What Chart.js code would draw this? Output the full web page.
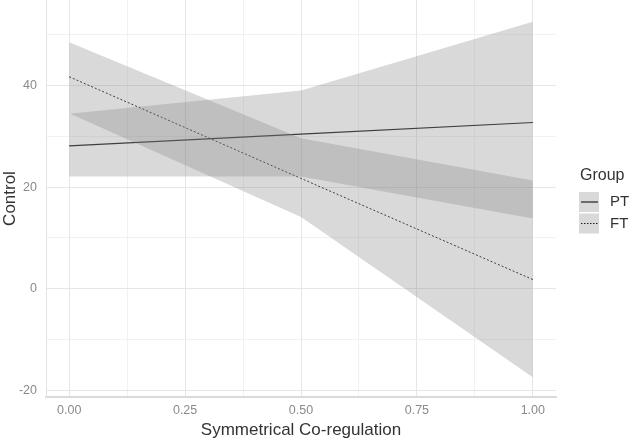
<!DOCTYPE html>
<html>
<head>
<meta charset="utf-8">
<script src="https://cdn.jsdelivr.net/npm/chart.js@4"></script>
<style>
  html, body { margin: 0; padding: 0; background: #fff; }
  #wrap { width: 633px; height: 442px; }
</style>
</head>
<body>
<div id="wrap"><canvas id="chart" width="633" height="442"></canvas></div>
<script>
// x positions of the fitted values
const xValues = [0, 0.5, 1];

// PT group: fitted line and confidence band
const ptFit = [28.1, 30.4, 32.7];
const ptLower = [22.1, 22.1, 13.8];
const ptUpper = [34.4, 39.0, 52.5];

// FT group: fitted line and confidence band
const ftFit = [41.7, 21.7, 1.8];
const ftLower = [34.5, 14.1, -17.4];
const ftUpper = [48.5, 29.6, 21.3];

// axis ticks (major get labels, minor only grid lines)
const xTicks = [0, 0.125, 0.25, 0.375, 0.5, 0.625, 0.75, 0.875, 1];
const xLabels = [0, 0.25, 0.5, 0.75, 1];
const yTicks = [-20, -10, 0, 10, 20, 30, 40, 50];
const yLabels = [-20, 0, 20, 40];

const groups = ['PT', 'FT'];

const toPoints = arr => arr.map((v, i) => ({ x: xValues[i], y: v }));
const bandFill = 'rgba(128,128,128,0.3)';
const fontFamily = '"Liberation Sans", Arial, sans-serif';

const overlay = {
  id: 'overlay',
  afterDraw(chart) {
    const ctx = chart.ctx;
    const area = chart.chartArea;
    ctx.save();
    ctx.fillStyle = '#333';
    ctx.font = '17px ' + fontFamily;
    ctx.textAlign = 'center';
    ctx.textBaseline = 'middle';
    ctx.fillText('Symmetrical Co-regulation', (area.left + area.right) / 2, 430);
    ctx.translate(10, (area.top + area.bottom) / 2);
    ctx.rotate(-Math.PI / 2);
    ctx.fillText('Control', 0, 0);
    ctx.restore();

    // legend
    ctx.save();
    ctx.fillStyle = '#333';
    ctx.font = '16px ' + fontFamily;
    ctx.textAlign = 'left';
    ctx.textBaseline = 'middle';
    ctx.fillText('Group', 580, 176);
    groups.forEach((g, i) => {
      const top = 192 + i * 21.5;
      ctx.fillStyle = '#d9d9d9';
      ctx.fillRect(579, top, 20, 20);
      ctx.strokeStyle = '#222';
      ctx.lineWidth = i === 0 ? 1.2 : 1;
      ctx.setLineDash(i === 0 ? [] : [1.5, 1.5]);
      ctx.beginPath();
      ctx.moveTo(581, top + 10);
      ctx.lineTo(598, top + 10);
      ctx.stroke();
      ctx.setLineDash([]);
      ctx.fillStyle = '#333';
      ctx.font = '15px ' + fontFamily;
      ctx.fillText(g, 610, top + 10);
    });
    ctx.restore();
  }
};

new Chart(document.getElementById('chart'), {
  type: 'line',
  data: {
    datasets: [
      { data: toPoints(ptLower), borderWidth: 0, pointRadius: 0, fill: false },
      { data: toPoints(ptUpper), borderWidth: 0, pointRadius: 0, fill: '-1', backgroundColor: bandFill },
      { data: toPoints(ftLower), borderWidth: 0, pointRadius: 0, fill: false },
      { data: toPoints(ftUpper), borderWidth: 0, pointRadius: 0, fill: '-1', backgroundColor: bandFill },
      { data: toPoints(ptFit), borderColor: '#222', borderWidth: 1.2, pointRadius: 0, fill: false },
      { data: toPoints(ftFit), borderColor: '#222', borderWidth: 1, borderDash: [2, 2], pointRadius: 0, fill: false }
    ]
  },
  options: {
    responsive: false,
    animation: false,
    layout: { padding: { left: 0, top: 0, right: 77, bottom: 0 } },
    plugins: { legend: { display: false }, tooltip: { enabled: false } },
    scales: {
      x: {
        type: 'linear',
        min: -0.05,
        max: 1.05,
        afterBuildTicks: s => { s.ticks = xTicks.map(v => ({ value: v })); },
        afterFit: s => { s.height = 45; s.paddingLeft = 0; s.paddingRight = 0; },
        ticks: {
          padding: 6,
          color: '#8a8a8a',
          font: { family: fontFamily, size: 12.5 },
          autoSkip: false,
          maxRotation: 0,
          callback: v => xLabels.includes(v) ? v.toFixed(2) : ''
        },
        grid: {
          drawTicks: false,
          color: ctx => xLabels.includes(ctx.tick && ctx.tick.value) ? '#e6e6e6' : '#eeeeee',
          lineWidth: ctx => xLabels.includes(ctx.tick && ctx.tick.value) ? 1 : 0.8
        },
        border: { display: true, color: '#dadada', width: 2 }
      },
      y: {
        min: -21.3,
        max: 56.8,
        afterBuildTicks: s => { s.ticks = yTicks.map(v => ({ value: v })); },
        afterFit: s => { s.width = 46; s.paddingTop = 0; s.paddingBottom = 0; },
        ticks: {
          padding: 9,
          color: '#8a8a8a',
          font: { family: fontFamily, size: 12.5 },
          autoSkip: false,
          callback: v => yLabels.includes(v) ? String(v) : ''
        },
        grid: {
          drawTicks: false,
          color: ctx => yLabels.includes(ctx.tick && ctx.tick.value) ? '#e6e6e6' : '#eeeeee',
          lineWidth: ctx => yLabels.includes(ctx.tick && ctx.tick.value) ? 1 : 0.8
        },
        border: { display: true, color: '#e3e3e3', width: 1 }
      }
    }
  },
  plugins: [overlay]
});
</script>
</body>
</html>
